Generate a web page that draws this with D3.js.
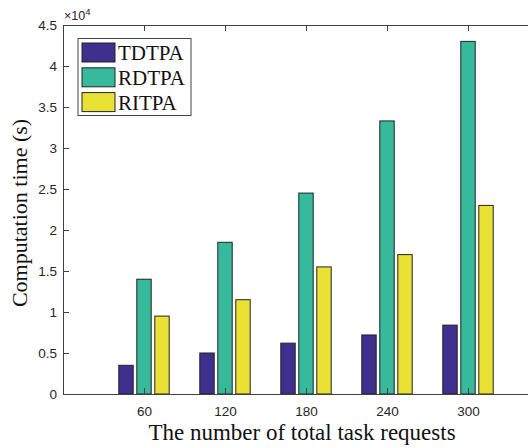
<!DOCTYPE html>
<html><head><meta charset="utf-8">
<script src="https://cdn.jsdelivr.net/npm/d3@7"></script>
<style>body{margin:0;background:#fff}svg{display:block}</style>
</head><body>
<script>
const categories = [60, 120, 180, 240, 300];
const seriesNames = ["TDTPA", "RDTPA", "RITPA"];
const TDTPA = [3500, 5000, 6200, 7200, 8400];
const RDTPA = [14000, 18500, 24500, 33300, 43000];
const RITPA = [9500, 11500, 15500, 17000, 23000];
const yTicks = [0, 5000, 10000, 15000, 20000, 25000, 30000, 35000, 40000, 45000];
const colors = ["#3f2f8f", "#37b99c", "#e9e133"];
const series = [TDTPA, RDTPA, RITPA];

const W = 528, H = 448;
const m = {left: 63, top: 25, bottom: 54};
const plotRight = 549;
const svg = d3.select("body").append("svg").attr("width", W).attr("height", H);

const x = d3.scaleLinear().domain([0, 360]).range([m.left, plotRight]);
const y = d3.scaleLinear().domain([0, 45000]).range([H - m.bottom, m.top]);
const axisCol = "#404040";

// bars
const slot = 40 / 3; // data units
const bw = slot * 0.8;
series.forEach((vals, si) => {
  svg.append("g").selectAll("rect").data(vals).join("rect")
    .attr("x", (d, i) => x(categories[i] + (si - 1) * slot - bw / 2))
    .attr("width", x(bw) - x(0))
    .attr("y", d => y(d))
    .attr("height", d => y(0) - y(d))
    .attr("fill", colors[si])
    .attr("stroke", "#222")
    .attr("stroke-width", 1);
});

// axes
const gx = svg.append("g").attr("transform", `translate(0,${y(0)})`)
  .call(d3.axisBottom(x).tickValues(categories).tickSize(-6).tickPadding(12).tickSizeOuter(0));
const gxt = svg.append("g").attr("transform", `translate(0,${y(45000)})`)
  .call(d3.axisTop(x).tickValues(categories).tickSize(-6).tickFormat("").tickSizeOuter(0));
const gy = svg.append("g").attr("transform", `translate(${m.left},0)`)
  .call(d3.axisLeft(y).tickValues(yTicks).tickSize(-6).tickPadding(6).tickSizeOuter(0)
    .tickFormat(d => d3.format("")(d / 10000)));
[gx, gxt, gy].forEach(g => {
  g.selectAll("path").attr("stroke", axisCol).attr("stroke-width", 1);
  g.selectAll("line").attr("stroke", axisCol);
  g.selectAll("text").attr("fill", "#262626").style("font-family", "Liberation Sans, Arial, sans-serif").style("font-size", "13.5px");
});
gx.select("path.domain").attr("d", `M${m.left},0.5H${W}`);
gxt.select("path.domain").attr("d", `M${m.left},0.5H${W}`);

// exponent
const ex = svg.append("text").attr("x", 64).attr("y", 20)
  .style("font-family", "Liberation Sans, Arial, sans-serif").style("font-size", "12.5px").attr("fill", "#262626");
ex.append("tspan").text("×10");
ex.append("tspan").attr("dy", -5).style("font-size", "9.5px").text("4");

// axis titles
svg.append("text").attr("x", 302).attr("y", 440).attr("text-anchor", "middle")
  .style("font-family", "Liberation Serif, Times New Roman, serif").style("font-size", "23px").attr("fill", "#111")
  .text("The number of total task requests");
svg.append("text").attr("transform", "translate(27,213) rotate(-90)").attr("text-anchor", "middle")
  .style("font-family", "Liberation Serif, Times New Roman, serif").style("font-size", "22px").attr("fill", "#111")
  .text("Computation time (s)");

// legend
const lg = svg.append("g");
lg.append("rect").attr("x", 78).attr("y", 38.5).attr("width", 113).attr("height", 77)
  .attr("fill", "#fff").attr("stroke", "#444").attr("stroke-width", 1);
seriesNames.forEach((n, i) => {
  const yy = 43 + i * 24.8;
  lg.append("rect").attr("x", 82).attr("y", yy).attr("width", 33).attr("height", 19)
    .attr("fill", colors[i]).attr("stroke", "#222");
  lg.append("text").attr("x", 118).attr("y", yy + 17).text(n)
    .style("font-family", "Liberation Serif, Times New Roman, serif").style("font-size", "21px").attr("fill", "#111");
});
</script>
</body></html>
